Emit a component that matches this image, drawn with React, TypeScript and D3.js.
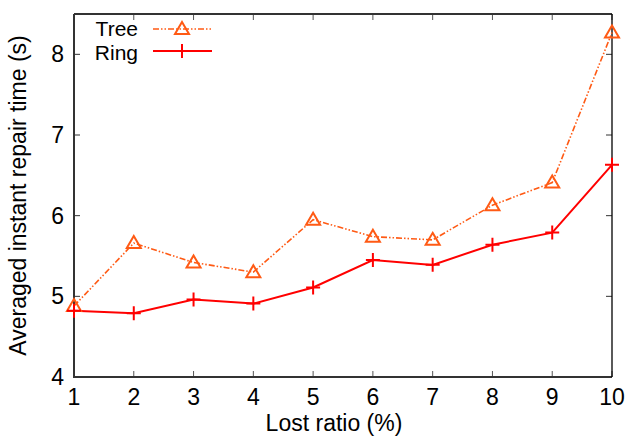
import React from 'react';
import * as d3 from 'd3';

const lostRatio = [1, 2, 3, 4, 5, 6, 7, 8, 9, 10];
const treeTimes = [4.88, 5.66, 5.42, 5.3, 5.95, 5.74, 5.7, 6.13, 6.41, 8.27];
const ringTimes = [4.82, 4.79, 4.96, 4.91, 5.11, 5.45, 5.39, 5.64, 5.79, 6.63];
const yTicks = [4, 5, 6, 7, 8];

const width = 627;
const height = 436;
const margin = { top: 14, right: 15, bottom: 59, left: 74 };
const treeColor = '#ff5a14';
const ringColor = '#ff0000';
const font = 'Liberation Sans, Arial, Helvetica, sans-serif';
const fs = 23;

const Triangle = ({ x, y }) => (
  <path
    d={`M${x},${y - 7} L${x + 7},${y + 5} L${x - 7},${y + 5} Z`}
    fill="none"
    stroke={treeColor}
    strokeWidth={2}
  />
);

const Plus = ({ x, y }) => (
  <path d={`M${x - 7},${y} H${x + 7} M${x},${y - 7} V${y + 7}`} stroke={ringColor} strokeWidth={2} />
);

const App = () => {
  const x = d3.scaleLinear().domain([1, 10]).range([margin.left, width - margin.right]);
  const y = d3.scaleLinear().domain([4, 8.5]).range([height - margin.bottom, margin.top]);
  const line = d3
    .line()
    .x((d) => x(d[0]))
    .y((d) => y(d[1]));

  const treePts = lostRatio.map((r, i) => [r, treeTimes[i]]);
  const ringPts = lostRatio.map((r, i) => [r, ringTimes[i]]);
  const x0 = margin.left;
  const x1 = width - margin.right;
  const y0 = height - margin.bottom;
  const y1 = margin.top;

  return (
    <svg width={width} height={height} style={{ position: 'absolute', left: 0, top: 0 }} fontFamily={font}>
      <rect width={width} height={height} fill="white" />
      {/* ticks */}
      {lostRatio.map((t) => (
        <g key={'x' + t} stroke="#555" strokeWidth={1}>
          <line x1={x(t)} x2={x(t)} y1={y0} y2={y0 - 6} />
          <line x1={x(t)} x2={x(t)} y1={y1} y2={y1 + 6} />
        </g>
      ))}
      {yTicks.map((t) => (
        <g key={'y' + t} stroke="#333" strokeWidth={1}>
          <line x1={x0} x2={x0 + 6} y1={y(t)} y2={y(t)} />
          <line x1={x1} x2={x1 - 6} y1={y(t)} y2={y(t)} />
        </g>
      ))}
      {/* border */}
      <path d={`M${x0},${y1} V${y0} H${x1}`} fill="none" stroke="#333" strokeWidth={2} />
      <path d={`M${x0},${y1} H${x1}`} fill="none" stroke="#333" strokeWidth={2} />
      <path d={`M${x1},${y1} V${y0}`} fill="none" stroke="#000" strokeWidth={1.3} />
      {/* tick labels */}
      {lostRatio.map((t) => (
        <text key={'xl' + t} x={x(t)} y={y0 + 28} fontSize={fs} textAnchor="middle">
          {t}
        </text>
      ))}
      {yTicks.map((t) => (
        <text key={'yl' + t} x={x0 - 10} y={y(t) + 8} fontSize={fs} textAnchor="end">
          {t}
        </text>
      ))}
      {/* axis titles */}
      <text x={(x0 + x1) / 2 - 9} y={431} fontSize={fs} textAnchor="middle">
        Lost ratio (%)
      </text>
      <text transform={`translate(26,${(y0 + y1) / 2}) rotate(-90)`} fontSize={fs} textAnchor="middle">
        Averaged instant repair time (s)
      </text>
      {/* series */}
      <path d={line(treePts)} fill="none" stroke={treeColor} strokeWidth={1.6} strokeDasharray="6,2,1.5,2,1.5,2" />
      <path d={line(ringPts)} fill="none" stroke={ringColor} strokeWidth={2} />
      {treePts.map((p, i) => (
        <Triangle key={'t' + i} x={x(p[0])} y={y(p[1])} />
      ))}
      {ringPts.map((p, i) => (
        <Plus key={'r' + i} x={x(p[0])} y={y(p[1])} />
      ))}
      {/* legend */}
      <text x={138} y={35.5} fontSize={21} textAnchor="end">Tree</text>
      <line x1={153} x2={212} y1={29} y2={29} stroke={treeColor} strokeWidth={1.6} strokeDasharray="6,2,1.5,2,1.5,2" />
      <Triangle x={182} y={29} />
      <text x={138} y={59.5} fontSize={21} textAnchor="end">Ring</text>
      <line x1={153} x2={212} y1={51} y2={51} stroke={ringColor} strokeWidth={2} />
      <Plus x={182} y={51} />
    </svg>
  );
};

export default App;
